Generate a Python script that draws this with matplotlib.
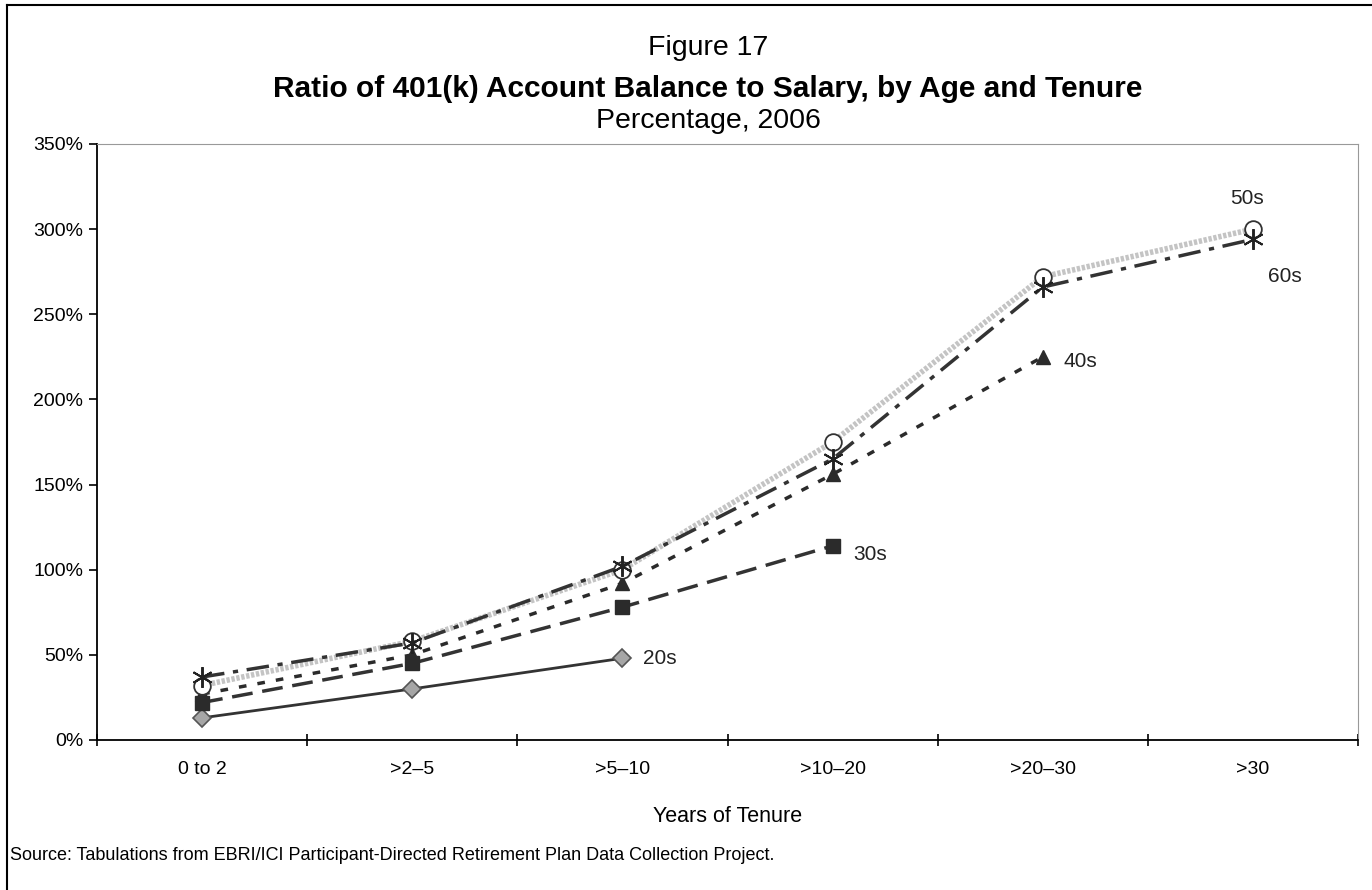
import matplotlib
matplotlib.use('Agg')
import matplotlib.pyplot as plt
from matplotlib.lines import Line2D

plt.rcParams['font.family'] = ['Liberation Sans', 'DejaVu Sans']

# Years of tenure groups
tenure = ['0 to 2', '>2\u20135', '>5\u201310', '>10\u201320', '>20\u201330', '>30']

# Ratio of account balance to salary (percent), by age group
age_20s = [13, 30, 48]
age_30s = [22, 45, 78, 114]
age_40s = [27, 50, 92, 156, 225]
age_50s = [32, 58, 100, 175, 272, 300]
age_60s = [37, 57, 102, 165, 266, 294]

y_ticks = [0, 50, 100, 150, 200, 250, 300, 350]

fig = plt.figure(figsize=(13.72, 8.90), dpi=100)
ax = fig.add_axes([97/1372, 150/890, (1358-97)/1372, (740-144)/890])

ax.plot(range(len(age_20s)), age_20s, color='#333333', lw=2, ls='-',
        marker='D', ms=9, mfc='#a6a6a6', mec='#555555', mew=1.2, zorder=3)
ax.plot(range(len(age_30s)), age_30s, color='#333333', lw=2.5, ls=(0, (6, 2.8)),
        marker='s', ms=10, mfc='#2b2b2b', mec='#2b2b2b', zorder=3)
ax.plot(range(len(age_40s)), age_40s, color='#2b2b2b', lw=2.5, ls=(0, (2.2, 3.2)),
        marker='^', ms=10, mfc='#2b2b2b', mec='#2b2b2b', zorder=3)
ax.plot(range(len(age_50s)), age_50s, color='#c4c4c4', lw=4, ls=(0, (0.6, 0.3)),
        marker='o', ms=12, mfc='white', mec='#333333', mew=1.3, zorder=4)
ax.plot(range(len(age_60s)), age_60s, color='#333333', lw=2.5, ls=(0, (6.5, 2.5, 1.5, 2.5)),
        marker=(6, 2, 0), ms=15, mec='#222222', mew=1.4, zorder=5)

# Series labels next to the last point of each line
label_kw = dict(fontsize=15, color='#222222', va='center')
ax.text(len(age_20s) - 1 + 0.10, age_20s[-1], '20s', **label_kw)
ax.text(len(age_30s) - 1 + 0.10, age_30s[-1] - 5, '30s', **label_kw)
ax.text(len(age_40s) - 1 + 0.10, age_40s[-1] - 3, '40s', **label_kw)
ax.text(len(age_50s) - 1 - 0.03, age_50s[-1] + 18, '50s', ha='center', **label_kw)
ax.text(len(age_60s) - 1 + 0.07, age_60s[-1] - 22, '60s', ha='left', **label_kw)

ax.set_xlim(-0.5, len(tenure) - 0.5)
ax.set_ylim(0, 350)

# tick marks on the group boundaries, labels centred under each group
ax.set_xticks([i - 0.5 for i in range(len(tenure) + 1)])
ax.set_xticklabels([])
ax.set_xticks(range(len(tenure)), minor=True)
ax.set_xticklabels(tenure, minor=True, fontsize=14)
ax.tick_params(axis='x', which='major', length=8, direction='inout', width=1.2)
ax.tick_params(axis='x', which='minor', length=0, pad=15)

ax.set_yticks(y_ticks)
ax.set_yticklabels([f'{v}%' for v in y_ticks], fontsize=14)
ax.tick_params(axis='y', length=6, direction='out', width=1.2, pad=4)

ax.spines['left'].set_linewidth(1.3)
ax.spines['bottom'].set_linewidth(1.3)
ax.spines['top'].set_color('#999999')
ax.spines['right'].set_color('#999999')

ax.set_xlabel('Years of Tenure', fontsize=15.5, labelpad=20)

title_x = 708/1372
fig.text(title_x, 1 - 48/890, 'Figure 17', ha='center', va='center', fontsize=20.5)
fig.text(title_x, 1 - 89/890, 'Ratio of 401(k) Account Balance to Salary, by Age and Tenure',
         ha='center', va='center', fontsize=21.5, fontweight='bold')
fig.text(title_x, 1 - 121/890, 'Percentage, 2006', ha='center', va='center', fontsize=20.5)
fig.text(10/1372, 1 - 855/890,
         'Source: Tabulations from EBRI/ICI Participant-Directed Retirement Plan Data Collection Project.',
         ha='left', va='center', fontsize=13)

# outer frame (left and top edges)
fig.add_artist(Line2D([7/1372, 7/1372], [0, 1 - 5/890], transform=fig.transFigure,
                      color='black', lw=1.5))
fig.add_artist(Line2D([7/1372, 1], [1 - 5/890, 1 - 5/890], transform=fig.transFigure,
                      color='black', lw=1.5))

fig.savefig('out.png', dpi=100)
